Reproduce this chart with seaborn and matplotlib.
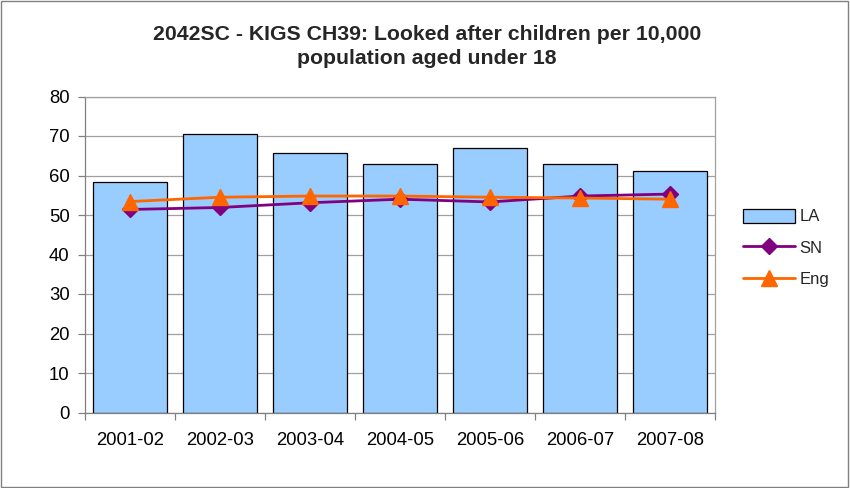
import matplotlib
matplotlib.use("Agg")
import matplotlib.pyplot as plt
import seaborn as sns
import pandas as pd
import numpy as np
from matplotlib.patches import Rectangle
from matplotlib.lines import Line2D
from matplotlib.patches import Patch

categories = ["2001-02", "2002-03", "2003-04", "2004-05", "2005-06", "2006-07", "2007-08"]
la_values = [58.3, 70.4, 65.8, 62.9, 66.9, 62.9, 61.1]
sn_values = [51.4, 51.9, 53.1, 54.0, 53.3, 54.8, 55.3]
eng_values = [53.4, 54.5, 54.8, 54.8, 54.5, 54.3, 54.0]
title = "2042SC - KIGS CH39: Looked after children per 10,000\npopulation aged under 18"

sns.set_theme(style="white")
plt.rcParams['font.family'] = ['Liberation Sans', 'DejaVu Sans']

fig = plt.figure(figsize=(8.5, 4.88), dpi=100)
ax = fig.add_axes([85/850, 1-412.5/488, 630/850, 316/488])

df = pd.DataFrame({"cat": categories, "LA": la_values})
sns.barplot(data=df, x="cat", y="LA", color="#99CCFF", saturation=1, width=0.83,
            edgecolor="#000000", linewidth=0.9, ax=ax, zorder=2)
ax.plot(range(len(categories)), sn_values, color="#800080", marker="D", markersize=8.5,
        linewidth=2, zorder=3)
ax.plot(range(len(categories)), eng_values, color="#FF6600", marker="^", markersize=11.5,
        linewidth=2, zorder=4)

ax.set_ylim(0, 80)
ax.set_xlim(-0.5, len(categories) - 0.5)
ax.set_yticks(range(0, 81, 10))
ax.yaxis.grid(True, color="#A0A0A0", linewidth=0.9, zorder=0)
ax.set_axisbelow(True)
ax.set_xlabel("")
ax.set_ylabel("")
ax.tick_params(axis="both", labelsize=13.3, colors="#000000")
ax.tick_params(axis="x", which="major", length=0, pad=14)
ax.set_xticks(np.arange(-0.5, len(categories), 1.0), minor=True)
ax.tick_params(axis="x", which="minor", bottom=True, length=5, width=0.9, color="#808080", direction="out")
ax.tick_params(axis="y", left=True, length=5, width=0.9, color="#808080", direction="out", pad=6)
for side in ["top", "right"]:
    ax.spines[side].set_color("#A0A0A0")
    ax.spines[side].set_linewidth(0.9)
for side in ["left", "bottom"]:
    ax.spines[side].set_color("#808080")
    ax.spines[side].set_linewidth(0.9)

fig.text(427/850, 1-46.5/488, title, ha="center", va="center", fontsize=15.3,
         fontweight="bold", linespacing=1.38)

handles = [Patch(facecolor="#99CCFF", edgecolor="#000000", linewidth=0.9),
           Line2D([], [], color="#800080", marker="D", markersize=8.5, linewidth=2),
           Line2D([], [], color="#FF6600", marker="^", markersize=11.5, linewidth=2)]
fig.legend(handles, ["LA", "SN", "Eng"], loc="center left", bbox_to_anchor=(728/850, 1-248/488),
           frameon=False, fontsize=12, handlelength=3.1, handleheight=0.9, labelspacing=0.95,
           handletextpad=0.3)

fig.patches.append(Rectangle((0.001, 0.002), 0.997, 0.995, transform=fig.transFigure,
                             fill=False, edgecolor="#808080", linewidth=1))

fig.savefig("out.png", dpi=100)
